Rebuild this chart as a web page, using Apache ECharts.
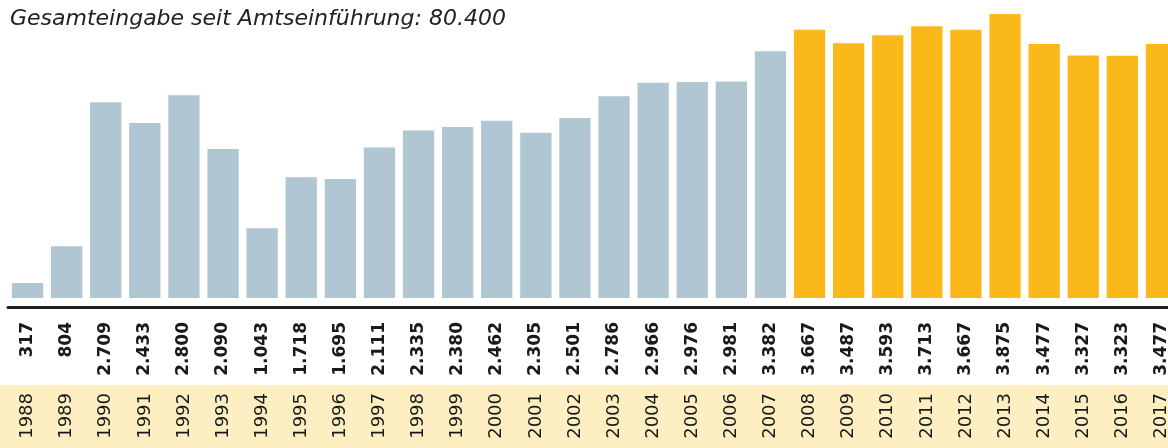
<!DOCTYPE html>
<html>
<head>
<meta charset="utf-8">
<script src="https://cdn.jsdelivr.net/npm/echarts@6/dist/echarts.min.js"></script>
<style>html,body{margin:0;padding:0;background:#fff;}#c{width:1168px;height:448px;}</style>
</head>
<body>
<div id="c"></div>
<script>
const years = ['1988','1989','1990','1991','1992','1993','1994','1995','1996','1997','1998','1999','2000','2001','2002','2003','2004','2005','2006','2007','2008','2009','2010','2011','2012','2013','2014','2015','2016','2017'];
const values = [317,804,2709,2433,2800,2090,1043,1718,1695,2111,2335,2380,2462,2305,2501,2786,2966,2976,2981,3382,3667,3487,3593,3713,3667,3875,3477,3327,3323,3477];
const highlightFromYear = '2008';
const subtitle = 'Gesamteingabe seit Amtseinführung: 80.400';

const fmt = v => String(v).replace(/\B(?=(\d{3})+(?!\d))/g, '.');
const hiIdx = years.indexOf(highlightFromYear);

const chart = echarts.init(document.getElementById('c'), null, {renderer: 'canvas'});
chart.setOption({
  animation: false,
  graphic: [
    {type: 'rect', shape: {x: 0, y: 385, width: 1168, height: 63}, style: {fill: '#fdefc2'}, z: -10, silent: true},
    {type: 'text', left: 10, top: 8, style: {text: subtitle, font: 'italic 22px "DejaVu Sans"', fill: '#222'}}
  ],
  grid: {left: 8, width: 1173, top: 14, bottom: 150, containLabel: false, outerBoundsMode: 'none'},
  xAxis: [
    {
      type: 'category', data: years, position: 'bottom', offset: 9,
      axisLine: {show: true, lineStyle: {color: '#222', width: 3}},
      axisTick: {show: false},
      axisLabel: {
        interval: 0, rotate: 90, margin: 15,
        formatter: (val, i) => fmt(values[i]),
        fontFamily: 'DejaVu Sans', fontWeight: 'bold', fontSize: 17, color: '#1a1a1a'
      }
    },
    {
      type: 'category', data: years, position: 'bottom', offset: 9,
      axisLine: {show: false}, axisTick: {show: false},
      axisLabel: {
        interval: 0, rotate: 90, margin: 86,
        fontFamily: 'DejaVu Sans', fontSize: 18, color: '#1a1a1a'
      }
    }
  ],
  yAxis: {type: 'value', min: 120, max: 3875, show: false, splitLine: {show: false}},
  series: [{
    type: 'bar', xAxisIndex: 0, barCategoryGap: '20%',
    data: values.map((v, i) => ({value: v, itemStyle: {color: i >= hiIdx ? '#fbb819' : '#b0c6d3'}}))
  }]
});
</script>
</body>
</html>
